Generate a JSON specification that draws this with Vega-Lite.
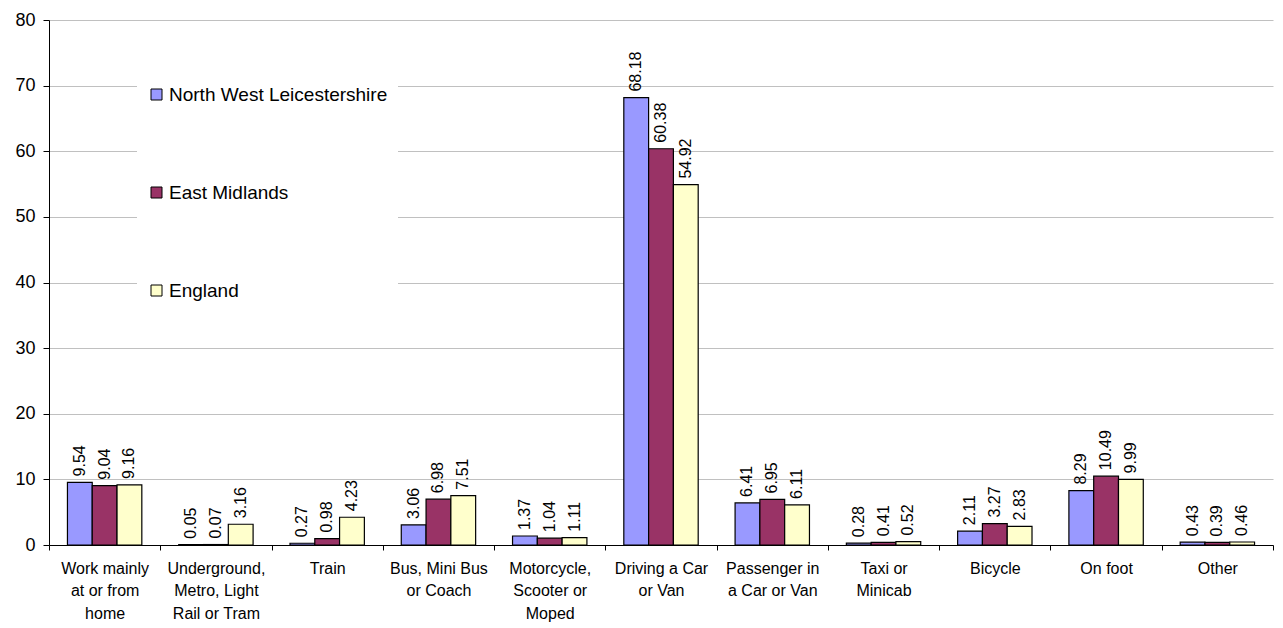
{
  "$schema": "https://vega.github.io/schema/vega-lite/v6.json",
  "width": 1224,
  "height": 525,
  "autosize": {"type": "none"},
  "padding": {"left": 49, "top": 20, "right": 10, "bottom": 83},
  "background": "white",
  "config": {
    "font": "Liberation Sans",
    "view": {"stroke": null}
  },
  "data": {
    "values": [
      {"mode": "Work mainly at or from home", "area": "North West Leicestershire", "pct": 9.54},
      {"mode": "Work mainly at or from home", "area": "East Midlands", "pct": 9.04},
      {"mode": "Work mainly at or from home", "area": "England", "pct": 9.16},
      {"mode": "Underground, Metro, Light Rail or Tram", "area": "North West Leicestershire", "pct": 0.05},
      {"mode": "Underground, Metro, Light Rail or Tram", "area": "East Midlands", "pct": 0.07},
      {"mode": "Underground, Metro, Light Rail or Tram", "area": "England", "pct": 3.16},
      {"mode": "Train", "area": "North West Leicestershire", "pct": 0.27},
      {"mode": "Train", "area": "East Midlands", "pct": 0.98},
      {"mode": "Train", "area": "England", "pct": 4.23},
      {"mode": "Bus, Mini Bus or Coach", "area": "North West Leicestershire", "pct": 3.06},
      {"mode": "Bus, Mini Bus or Coach", "area": "East Midlands", "pct": 6.98},
      {"mode": "Bus, Mini Bus or Coach", "area": "England", "pct": 7.51},
      {"mode": "Motorcycle, Scooter or Moped", "area": "North West Leicestershire", "pct": 1.37},
      {"mode": "Motorcycle, Scooter or Moped", "area": "East Midlands", "pct": 1.04},
      {"mode": "Motorcycle, Scooter or Moped", "area": "England", "pct": 1.11},
      {"mode": "Driving a Car or Van", "area": "North West Leicestershire", "pct": 68.18},
      {"mode": "Driving a Car or Van", "area": "East Midlands", "pct": 60.38},
      {"mode": "Driving a Car or Van", "area": "England", "pct": 54.92},
      {"mode": "Passenger in a Car or Van", "area": "North West Leicestershire", "pct": 6.41},
      {"mode": "Passenger in a Car or Van", "area": "East Midlands", "pct": 6.95},
      {"mode": "Passenger in a Car or Van", "area": "England", "pct": 6.11},
      {"mode": "Taxi or Minicab", "area": "North West Leicestershire", "pct": 0.28},
      {"mode": "Taxi or Minicab", "area": "East Midlands", "pct": 0.41},
      {"mode": "Taxi or Minicab", "area": "England", "pct": 0.52},
      {"mode": "Bicycle", "area": "North West Leicestershire", "pct": 2.11},
      {"mode": "Bicycle", "area": "East Midlands", "pct": 3.27},
      {"mode": "Bicycle", "area": "England", "pct": 2.83},
      {"mode": "On foot", "area": "North West Leicestershire", "pct": 8.29},
      {"mode": "On foot", "area": "East Midlands", "pct": 10.49},
      {"mode": "On foot", "area": "England", "pct": 9.99},
      {"mode": "Other", "area": "North West Leicestershire", "pct": 0.43},
      {"mode": "Other", "area": "East Midlands", "pct": 0.39},
      {"mode": "Other", "area": "England", "pct": 0.46}
    ]
  },
  "encoding": {
    "x": {
      "field": "mode",
      "type": "nominal",
      "sort": null,
      "scale": {"paddingInner": 0, "paddingOuter": 0},
      "axis": {
        "title": null,
        "labelAngle": 0,
        "labelFontSize": 16,
        "labelColor": "black",
        "labelLineHeight": 22.5,
        "labelPadding": 10,
        "labelBaseline": "top",
        "tickBand": "extent",
        "tickSize": 5,
        "tickColor": "black",
        "domainColor": "black",
        "labelExpr": "{'Work mainly at or from home': ['Work mainly','at or from','home'], 'Underground, Metro, Light Rail or Tram': ['Underground,','Metro, Light','Rail or Tram'], 'Train': ['Train'], 'Bus, Mini Bus or Coach': ['Bus, Mini Bus','or Coach'], 'Motorcycle, Scooter or Moped': ['Motorcycle,','Scooter or','Moped'], 'Driving a Car or Van': ['Driving a Car','or Van'], 'Passenger in a Car or Van': ['Passenger in','a Car or Van'], 'Taxi or Minicab': ['Taxi or','Minicab'], 'Bicycle': ['Bicycle'], 'On foot': ['On foot'], 'Other': ['Other']}[datum.label]"
      }
    },
    "xOffset": {
      "field": "area",
      "type": "nominal",
      "sort": ["North West Leicestershire", "East Midlands", "England"],
      "scale": {"paddingInner": 0, "paddingOuter": 0.744}
    },
    "y": {
      "field": "pct",
      "type": "quantitative",
      "scale": {"domain": [0, 80], "nice": false},
      "axis": {
        "title": null,
        "values": [0, 10, 20, 30, 40, 50, 60, 70, 80],
        "grid": true,
        "gridColor": "#C0C0C0",
        "gridWidth": 1,
        "domainColor": "black",
        "tickColor": "black",
        "tickSize": 6,
        "labelPadding": 8,
        "labelFontSize": 18,
        "labelColor": "black"
      }
    }
  },
  "layer": [
    {
      "mark": {"type": "bar", "stroke": "black", "strokeWidth": 1.2},
      "encoding": {
        "fill": {
          "field": "area",
          "type": "nominal",
          "sort": ["North West Leicestershire", "East Midlands", "England"],
          "scale": {
            "domain": ["North West Leicestershire", "East Midlands", "England"],
            "range": ["#9999FF", "#993366", "#FFFFCC"]
          },
          "legend": {
            "title": null,
            "orient": "none",
            "legendX": 88,
            "legendY": 55,
            "direction": "vertical",
            "fillColor": "white",
            "padding": 10,
            "symbolType": "square",
            "symbolSize": 121,
            "symbolStrokeColor": "black",
            "symbolStrokeWidth": 1,
            "labelFontSize": 19,
            "labelColor": "black",
            "labelOffset": 3,
            "rowPadding": 78,
            "labelLimit": 400
          }
        }
      }
    },
    {
      "mark": {"type": "text", "angle": 270, "align": "left", "baseline": "middle", "dx": 6, "fontSize": 16, "color": "black"},
      "encoding": {
        "text": {"field": "pct", "type": "quantitative", "format": ".2f"}
      }
    }
  ]
}
